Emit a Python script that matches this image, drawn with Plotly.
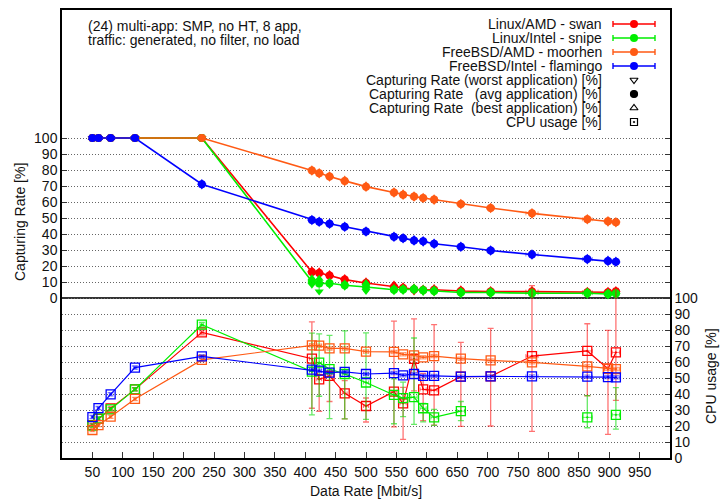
import plotly.graph_objects as go

# ---------------- data ----------------
data_rate = [50, 60, 80, 120, 230, 411, 423, 440, 465, 500, 546, 561, 579, 594, 612, 656, 705, 773, 864, 898, 911]

series_names = ["Linux/AMD - swan", "Linux/Intel - snipe", "FreeBSD/AMD - moorhen", "FreeBSD/Intel - flamingo"]

# capturing rate, average application [%]
cap_red = [100, 100, 100, 100, 100, 16.3, 15.7, 14, 11.5, 9.4, 6.9, 6.3, 5.5, 5, 5.2, 4.4, 4, 4, 3.6, 3.6, 4]
cap_green = [100, 100, 100, 100, 100, 10.3, 9, 9.2, 8, 6.9, 5.2, 5.3, 5.5, 4.8, 4.4, 3.4, 3.4, 3, 3, 2.5, 2.8]
cap_orange = [100, 100, 100, 100, 100, 79.7, 78, 75.9, 73.2, 69.6, 65.9, 64.6, 63.4, 62.5, 61.5, 58.8, 56.3, 52.9, 49.2, 47.9, 47.3]
cap_blue = [100, 100, 100, 100, 71.1, 48.7, 47.7, 46.4, 44.5, 41.6, 38.3, 37.3, 36, 35.4, 33.9, 32, 29.7, 27.2, 24.3, 23.2, 22.6]

# capturing rate spread: best above avg / worst below avg
cap_red_up = [0, 0, 0, 0, 0, 1, 1, 1, 1, 1, 1.5, 1, 1, 1, 1, 1, 1, 1, 1, 1, 1]
cap_red_dn = [0, 0, 0, 0, 0, 1, 1, 1, 1, 1, 1.5, 1.5, 1.5, 1, 1.5, 1, 1, 1, 1, 1, 1]
cap_green_up = [0, 0, 0, 0, 0, 2, 3, 1, 1, 2.5, 1, 1, 1, 1, 1, 1, 1, 1, 1, 1, 1]
cap_green_dn = [0, 0, 0, 0, 0, 2, 5, 1, 1, 2.5, 1, 1, 1, 1, 1, 1, 1, 1, 1, 1, 1]
cap_orange_up = [0, 0, 0, 0, 0, 0.8, 0.8, 0.8, 0.8, 0.8, 0.8, 0.8, 0.8, 0.8, 0.8, 0.8, 0.8, 0.8, 0.8, 0.8, 0.8]
cap_orange_dn = cap_orange_up
cap_blue_up = [0, 0, 0, 0, 0.8, 0.8, 0.8, 0.8, 0.8, 0.8, 0.8, 0.8, 0.8, 0.8, 0.8, 0.8, 0.8, 0.8, 0.8, 0.8, 0.8]
cap_blue_dn = cap_blue_up

# CPU usage [%]
cpu_red = [20.6, 24.4, 31, 42.9, 78.5, 62.1, 49.2, 51.3, 40.4, 32.5, 41.5, 34.2, 61.9, 42.9, 42.3, 50.8, 51, 63.7, 66.9, 55.8, 66]
cpu_green = [20.2, 24.8, 30.4, 42.9, 83.3, 54, 59.6, 55.6, 52.5, 47.2, 39.4, 37.4, 38, 31.1, 25.4, 29.3, None, None, 25.4, None, 27]
cpu_orange = [17.5, 20.6, 25.8, 36.9, 61.3, 70.4, 70.2, 68.5, 68.5, 66.5, 66.3, 64.8, 64.2, 62.9, 63.7, 62.1, 61, 59.8, 57.3, 55.8, 55.6]
cpu_blue = [25.6, 31.2, 39.8, 56.5, 63.5, 55.2, 54.6, 53.4, 53.8, 52.5, 53.1, 51.7, 52.5, 51.3, 51.3, 50.8, 51, 51, 50.8, 50.6, 50.4]

cpu_red_up = [1, 1, 1, 1, 1.5, 23, 3, 3, 8, 5, 44, 10, 25, 10, 41, 21.5, 30, 44, 17, 24, 40]
cpu_red_dn = [1, 1, 1, 1, 1.5, 31, 20, 16, 16, 10, 22, 22.5, 20, 19.6, 21.7, 31, 31, 47, 28, 41, 30]
cpu_green_up = [1, 1, 1, 1, 1.5, 24, 18, 21, 27, 31, 10, 10, 37, 3, 5, 6, 0, 0, 13.6, 0, 17]
cpu_green_dn = [1, 1, 1, 1, 1.5, 27, 21, 31, 28, 23, 18, 11.5, 17, 8.5, 5, 6, 0, 0, 6.5, 0, 9]
cpu_orange_err = [1] * 21
cpu_blue_err = [1] * 21

rate_err = [2, 2, 2, 2, 3, 4, 4, 4, 4, 4, 5, 5, 5, 5, 5, 6, 6, 10, 8, 6, 6]

x_ticks = [50, 100, 150, 200, 250, 300, 350, 400, 450, 500, 550, 600, 650, 700, 750, 800, 850, 900, 950]
y_ticks = [0, 10, 20, 30, 40, 50, 60, 70, 80, 90, 100]

colors = ["#ff0000", "#00ee00", "#ff5a14", "#0000ff"]
err_colors = ["rgba(255,0,0,0.55)", "rgba(0,220,0,0.6)", "rgba(255,90,20,0.55)", "rgba(0,0,255,0.5)"]

caps = [cap_red, cap_green, cap_orange, cap_blue]
caps_up = [cap_red_up, cap_green_up, cap_orange_up, cap_blue_up]
caps_dn = [cap_red_dn, cap_green_dn, cap_orange_dn, cap_blue_dn]
cpus = [cpu_red, cpu_green, cpu_orange, cpu_blue]
cpus_up = [cpu_red_up, cpu_green_up, cpu_orange_err, cpu_blue_err]
cpus_dn = [cpu_red_dn, cpu_green_dn, cpu_orange_err, cpu_blue_err]

FONT = "Liberation Sans, Arial, Helvetica, sans-serif"

fig = go.Figure()

# ---------------- CPU usage (right axis, lower part) ----------------
for i in range(4):
    fig.add_trace(go.Scatter(
        x=data_rate, y=cpus[i], yaxis="y2", mode="lines+markers",
        line=dict(color=colors[i], width=1.2),
        marker=dict(symbol="square-open-dot", size=9, color=colors[i], line=dict(width=1.3, color=colors[i])),
        error_y=dict(type="data", array=cpus_up[i], arrayminus=cpus_dn[i], color=err_colors[i], thickness=1.3, width=3),
        error_x=dict(type="data", array=rate_err, color=err_colors[i], thickness=1, width=2),
        connectgaps=False, showlegend=False, hoverinfo="skip"))

# ---------------- Capturing rate (left axis, upper part) ----------------
for i in range(4):
    worst = [a - d for a, d in zip(caps[i], caps_dn[i])]
    best = [a + u for a, u in zip(caps[i], caps_up[i])]
    fig.add_trace(go.Scatter(
        x=data_rate, y=caps[i], mode="lines+markers",
        line=dict(color=colors[i], width=1.6),
        marker=dict(symbol="circle", size=8, color=colors[i]),
        error_y=dict(type="data", array=caps_up[i], arrayminus=caps_dn[i], color=err_colors[i], thickness=1.3, width=3),
        error_x=dict(type="data", array=rate_err, color=err_colors[i], thickness=1, width=2),
        showlegend=False, hoverinfo="skip"))
    fig.add_trace(go.Scatter(
        x=data_rate, y=worst, mode="markers",
        marker=dict(symbol="triangle-down", size=8, color=colors[i]),
        showlegend=False, hoverinfo="skip"))
    fig.add_trace(go.Scatter(
        x=data_rate, y=best, mode="markers",
        marker=dict(symbol="triangle-up", size=8, color=colors[i]),
        showlegend=False, hoverinfo="skip"))

# ---------------- manual legend (gnuplot style, text right-aligned) ----------------
L, R, T, B = 62, 670, 10, 458
W, H = R - L, B - T
def px(xp):
    return (xp - L) / W
def py(yp):
    return 1 - (yp - T) / H

row_y = [24, 38, 52, 66, 80, 94, 108, 122]
legend_texts = series_names + [
    "Capturing Rate (worst application) [%]",
    "Capturing Rate &nbsp; (avg application) [%]",
    "Capturing Rate &nbsp;(best application) [%]",
    "CPU usage [%]",
]
for t, yy in zip(legend_texts, row_y):
    fig.add_annotation(xref="paper", yref="paper", x=px(604), y=py(yy), text=t,
                       showarrow=False, xanchor="right", yanchor="middle",
                       font=dict(family=FONT, size=14, color="#111"))

# sample symbols on an invisible helper axis spanning the plot area
for i in range(4):
    fig.add_trace(go.Scatter(
        x=[px(634)], y=[py(row_y[i])], xaxis="x3", yaxis="y3", mode="markers",
        marker=dict(symbol="circle", size=8, color=colors[i]),
        error_x=dict(type="constant", value=px(655) - px(634), color=colors[i], thickness=1.4, width=3),
        showlegend=False, hoverinfo="skip"))
sym_list = ["triangle-down-open", "circle", "triangle-up-open", "square-open-dot"]
for s, yy in zip(sym_list, row_y[4:]):
    fig.add_trace(go.Scatter(
        x=[px(634)], y=[py(yy)], xaxis="x3", yaxis="y3", mode="markers",
        marker=dict(symbol=s, size=7, color="black", line=dict(width=1.2, color="black")),
        showlegend=False, hoverinfo="skip"))

# title text
fig.add_annotation(xref="paper", yref="paper", x=px(86), y=py(26), text="(24) multi-app: SMP, no HT, 8 app,",
                   showarrow=False, xanchor="left", yanchor="middle", font=dict(family=FONT, size=14, color="#111"))
fig.add_annotation(xref="paper", yref="paper", x=px(86), y=py(40), text="traffic: generated, no filter, no load",
                   showarrow=False, xanchor="left", yanchor="middle", font=dict(family=FONT, size=14, color="#111"))

# axis titles
fig.add_annotation(xref="paper", yref="paper", x=px(711), y=py(376), text="CPU usage [%]", textangle=-90,
                   showarrow=False, xanchor="center", yanchor="middle", font=dict(family=FONT, size=14, color="#111"))
fig.add_annotation(xref="paper", yref="paper", x=px(20), y=py(222), text="Capturing Rate [%]", textangle=-90,
                   showarrow=False, xanchor="center", yanchor="middle", font=dict(family=FONT, size=14, color="#111"))
fig.add_annotation(xref="paper", yref="paper", x=0.5, y=py(491), text="Data Rate [Mbit/s]",
                   showarrow=False, xanchor="center", yanchor="middle", font=dict(family=FONT, size=14, color="#111"))

# separator line between the panels (capturing rate 0 / CPU 100)
fig.add_shape(type="line", xref="paper", yref="y", x0=0, x1=1, y0=0, y1=0,
              line=dict(color="#333", width=2.2), layer="below")

GRID_DASH = "1px,2px"
fig.update_layout(
    width=723, height=501,
    margin=dict(l=L, r=723 - R, t=T, b=501 - B, autoexpand=False),
    paper_bgcolor="white", plot_bgcolor="white",
    font=dict(family=FONT, size=14, color="#111"),
    xaxis=dict(range=[0, 1000], tickvals=x_ticks, ticks="inside", ticklen=6, tickwidth=1, tickcolor="#333",
               showline=True, mirror=True, linecolor="black", linewidth=1.5, showgrid=False, zeroline=False,
               tickfont=dict(size=14), automargin=False),
    yaxis=dict(range=[-100, 180], tickvals=y_ticks, ticks="inside", ticklen=5, tickcolor="#333",
               showline=True, mirror="ticks", linecolor="black", linewidth=1.5,
               showgrid=True, gridcolor="#666", griddash=GRID_DASH, gridwidth=1, zeroline=False,
               tickfont=dict(size=14), automargin=False),
    yaxis2=dict(range=[0, 280], tickvals=y_ticks, overlaying="y", side="right", ticks="inside", ticklen=5,
                tickcolor="#333", showline=True, linecolor="black", linewidth=1.5,
                showgrid=True, gridcolor="#666", griddash=GRID_DASH, gridwidth=1,
                zeroline=False, tickfont=dict(size=14), automargin=False),
    xaxis3=dict(domain=[0, 1], range=[0, 1], visible=False, anchor="y3", overlaying="x"),
    yaxis3=dict(domain=[0, 1], range=[0, 1], visible=False, anchor="x3", overlaying="y"),
    showlegend=False,
)

fig.write_html("out.html", config={"displayModeBar": False},
               post_script="document.body.style.margin='0';document.body.style.padding='0';")
